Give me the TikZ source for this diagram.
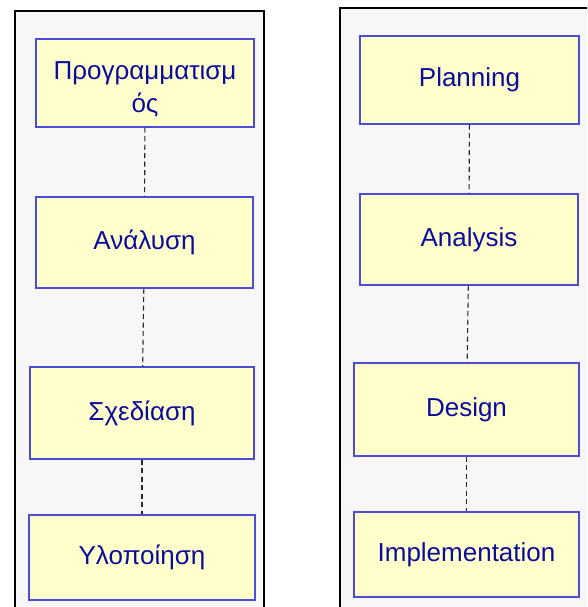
\documentclass[tikz,border=0pt]{standalone}
\usepackage{fontspec}
\setmainfont{Liberation Sans}
\definecolor{panelgray}{HTML}{F7F7F7}
\definecolor{boxfill}{HTML}{FFFFCC}
\definecolor{boxline}{HTML}{4C4CD8}
\definecolor{boxtext}{HTML}{0C0C9C}
\tikzset{
  panel/.style={draw=black, line width=1.2pt, fill=panelgray},
  stagebox/.style={draw=boxline, line width=1.1pt, fill=boxfill, text=boxtext,
    inner sep=0pt, align=center, font=\fontsize{26}{33}\selectfont},
  link/.style={draw=black!85, line width=1.1pt, dash pattern=on 5pt off 3.5pt}
}
\begin{document}
\begin{tikzpicture}[x=1pt, y=-1pt]
    \clip (0,0) rectangle (587,607);
    \draw[panel] (15,11) rectangle (264,630);
    \draw[panel] (340,8) rectangle (610,630);
    % greek column
    \node[stagebox, minimum width=218, minimum height=88] (progr) at (145,83) {\rule{0pt}{31pt}Προγραμματισμ\\ός};
    \node[stagebox, minimum width=217, minimum height=91] (anal) at (144.5,242.5) {Ανάλυση};
    \node[stagebox, minimum width=224, minimum height=92] (sxed) at (142,413) {Σχεδίαση};
    \node[stagebox, minimum width=226, minimum height=85] (ylop) at (142,557.5) {Υλοποίηση};
    % english column
    \node[stagebox, minimum width=219, minimum height=88] (plan) at (469.5,80) {Planning};
    \node[stagebox, minimum width=218, minimum height=91] (analysis) at (469,239.5) {Analysis};
    \node[stagebox, minimum width=225, minimum height=93] (design) at (466.5,409.5) {Design};
    \node[stagebox, minimum width=225, minimum height=85] (impl) at (466.5,554.5) {Implementation};
    \draw[link] (progr) -- (anal);
    \draw[link] (anal) -- (sxed);
    \draw[link] (sxed) -- (ylop);
    \draw[link] (plan) -- (analysis);
    \draw[link] (analysis) -- (design);
    \draw[link] (design) -- (impl);
\end{tikzpicture}
\end{document}
